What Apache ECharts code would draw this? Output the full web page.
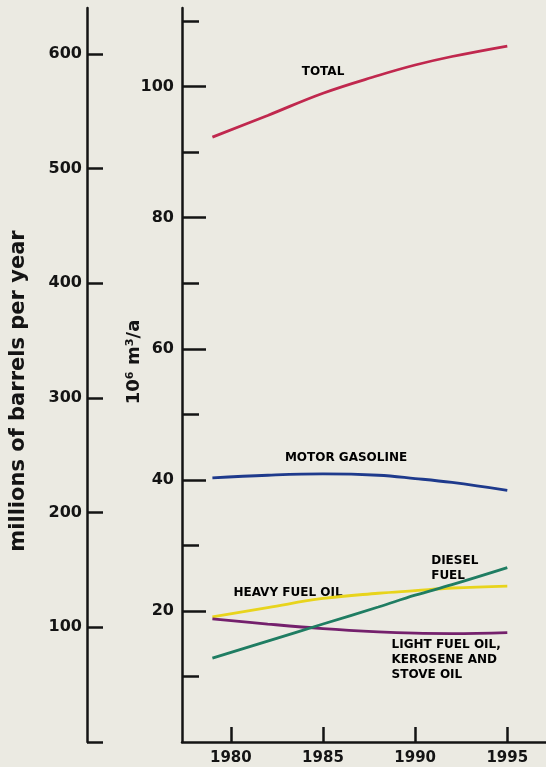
<!DOCTYPE html>
<html>
<head>
<meta charset="utf-8">
<script src="https://cdn.jsdelivr.net/npm/echarts@6/dist/echarts.min.js"></script>
<style>
html,body{margin:0;padding:0;background:#ebeae2;}
#chart{width:546px;height:767px;}
</style>
</head>
<body>
<div id="chart"></div>
<script>
// ---- data (10^6 m^3 per year) ----
const years = [1979, 1982, 1985, 1988, 1990, 1992, 1995];
const total = [92.3, 95.6, 99.0, 101.7, 103.3, 104.6, 106.2];
const motorGasoline = [40.3, 40.7, 40.9, 40.7, 40.2, 39.6, 38.4];
const heavyFuelOil = [19.1, 20.5, 21.9, 22.7, 23.1, 23.5, 23.8];
const dieselFuel = [12.8, 15.4, 18.0, 20.6, 22.4, 24.0, 26.6];
const lightFuelOil = [18.8, 18.0, 17.3, 16.8, 16.6, 16.55, 16.7];

const xTicks = [1980, 1985, 1990, 1995];
const m3MajorTicks = [20, 40, 60, 80, 100];
const m3MinorTicks = [10, 30, 50, 70, 90, 110];
const barrelTicks = [0, 100, 200, 300, 400, 500, 600];
const barrelLabels = [100, 200, 300, 400, 500, 600];

// annotation labels: [year, value, text, anchor]
const annotations = [
  [1985.0, 102.3, 'TOTAL', 'center'],
  [1986.25, 43.4, 'MOTOR GASOLINE', 'center'],
  [1983.1, 22.75, 'HEAVY FUEL OIL', 'center'],
  [1990.87, 26.56, 'DIESEL\nFUEL', 'left'],
  [1988.72, 12.56, 'LIGHT FUEL OIL,\nKEROSENE AND\nSTOVE OIL', 'left']
];

const ink = '#141414';
const pairs = arr => years.map((y, i) => [y, arr[i]]);

function lineSeries(name, arr, color) {
  return {
    name: name, type: 'line', xAxisIndex: 0, yAxisIndex: 0,
    data: pairs(arr), smooth: 0.4, showSymbol: false, symbol: 'none',
    lineStyle: { color: color, width: 2.8 }, silent: true
  };
}

const chart = echarts.init(document.getElementById('chart'), null, { renderer: 'canvas' });
const option = {
  animation: false,
  backgroundColor: '#ebeae2',
  grid: { left: 182, right: 0, top: 8, bottom: 25 },
  xAxis: [{
    type: 'value', min: 1977.35, max: 1997.1,
    axisLine: { show: true, onZero: false, lineStyle: { color: ink, width: 2.5 } },
    axisTick: { show: true, inside: true, length: 15, customValues: xTicks, lineStyle: { color: ink, width: 2.5 } },
    axisLabel: { show: true, customValues: xTicks, formatter: v => String(v), margin: 9, color: ink, fontFamily: 'DejaVu Sans', fontWeight: 'bold', fontSize: 15 },
    splitLine: { show: false }
  }],
  yAxis: [
    { // inner: 10^6 m^3/a, major ticks + labels
      type: 'value', position: 'left', min: 0, max: 112, offset: 0,
      name: '10⁶ m³/a', nameLocation: 'middle', nameRotate: 90, nameGap: 39, nameMoveOverlap: false,
      nameTextStyle: { color: ink, fontFamily: 'DejaVu Sans', fontWeight: 'bold', fontSize: 18, padding: [0, 0, 0, 26] },
      axisLine: { show: true, onZero: false, lineStyle: { color: ink, width: 2.5 } },
      axisTick: { show: true, inside: true, length: 24, customValues: m3MajorTicks, lineStyle: { color: ink, width: 2.5 } },
      axisLabel: { show: true, customValues: m3MajorTicks, margin: 8, color: ink, fontFamily: 'DejaVu Sans', fontWeight: 'bold', fontSize: 16 },
      splitLine: { show: false }
    },
    { // inner minor ticks
      type: 'value', position: 'left', min: 0, max: 112, offset: 0,
      axisLine: { show: false },
      axisTick: { show: true, inside: true, length: 17, customValues: m3MinorTicks, lineStyle: { color: ink, width: 2.5 } },
      axisLabel: { show: false },
      splitLine: { show: false }
    },
    { // outer: millions of barrels per year
      type: 'value', position: 'left', min: 0, max: 640, offset: 95,
      name: 'millions of barrels per year', nameLocation: 'middle', nameRotate: 90, nameGap: 58, nameMoveOverlap: false,
      nameTextStyle: { color: ink, fontFamily: 'DejaVu Sans', fontWeight: 'bold', fontSize: 21, padding: [0, 32, 0, 0] },
      axisLine: { show: true, onZero: false, lineStyle: { color: ink, width: 2.5 } },
      axisTick: { show: true, inside: true, length: 16, customValues: barrelTicks, lineStyle: { color: ink, width: 2.5 } },
      axisLabel: { show: true, customValues: barrelLabels, margin: 5, color: ink, fontFamily: 'DejaVu Sans', fontWeight: 'bold', fontSize: 16 },
      splitLine: { show: false }
    }
  ],
  series: [
    lineSeries('Total', total, '#c0284e'),
    lineSeries('Motor gasoline', motorGasoline, '#1e3a8c'),
    lineSeries('Heavy fuel oil', heavyFuelOil, '#e8d41c'),
    lineSeries('Light fuel oil, kerosene and stove oil', lightFuelOil, '#74206c'),
    lineSeries('Diesel fuel', dieselFuel, '#1f7d62'),
    {
      type: 'scatter', xAxisIndex: 0, yAxisIndex: 0, silent: true,
      symbol: 'circle', symbolSize: 0, itemStyle: { color: ink, opacity: 1 },
      data: annotations.map(a => ({
        value: [a[0], a[1]],
        label: {
          show: true, formatter: a[2], opacity: 1,
          position: a[3] === 'left' ? 'right' : 'inside',
          distance: 0, align: a[3],
          color: '#000', textBorderWidth: 0,
          fontFamily: 'DejaVu Sans', fontWeight: 'bold', fontSize: 12, lineHeight: 15
        }
      }))
    }
  ]
};
chart.setOption(option);
</script>
</body>
</html>
